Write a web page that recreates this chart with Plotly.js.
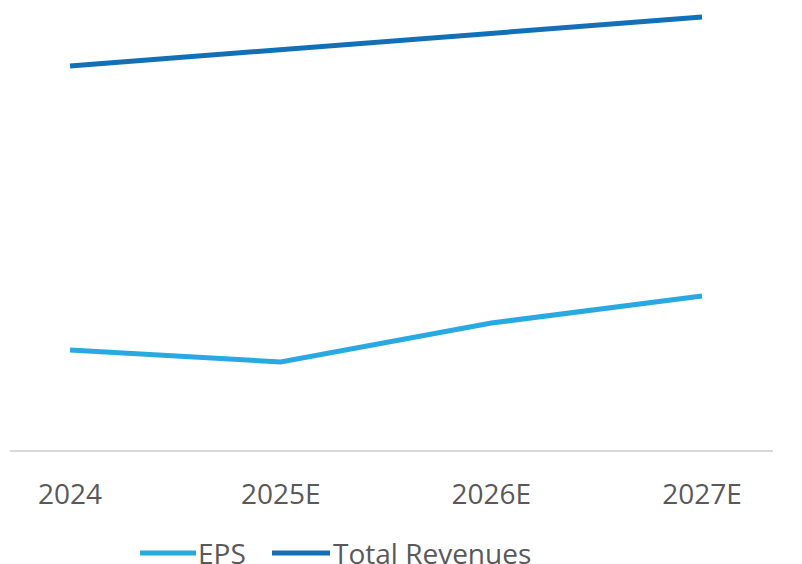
<!DOCTYPE html>
<html>
<head>
<meta charset="utf-8">
<script src="https://cdn.plot.ly/plotly-3.0.1.min.js"></script>
<style>
  html, body { margin: 0; padding: 0; background: #ffffff; }
  #chart { width: 802px; height: 564px; }
</style>
</head>
<body>
<div id="chart"></div>
<script>
// Fiscal periods on the category axis
const periods = ['2024', '2025E', '2026E', '2027E'];

// Series (relative scale, no value axis shown)
const epsValues = [100, 88, 127, 154];
const revenueValues = [384, 400, 417, 433];

const seriesNames = ['EPS', 'Total Revenues'];
const seriesColors = ['#29a9e1', '#1271b6'];

const textColor = '#595959';
const fontFamily = '"Open Sans", "Noto Sans", sans-serif';

const traces = [
  {
    x: periods, y: epsValues, name: seriesNames[0], type: 'scatter', mode: 'lines',
    line: { color: seriesColors[0], width: 5 }, hoverinfo: 'skip'
  },
  {
    x: periods, y: revenueValues, name: seriesNames[1], type: 'scatter', mode: 'lines',
    line: { color: seriesColors[1], width: 5 }, hoverinfo: 'skip'
  }
];

// Plot area spans 10..773 px horizontally and 10..450 px vertically
const plotW = 763, plotH = 440, mL = 10, mT = 10;
const px = v => (v - mL) / plotW;
const py = v => (mT + plotH - v) / plotH;

// Custom legend row beneath the axis: long line swatches followed by names
const legendY = 553;
const legendItems = [
  { x0: 140, x1: 196, tx: 197 },
  { x0: 272, x1: 330, tx: 332 }
];
const shapes = legendItems.map((it, i) => ({
  type: 'line', xref: 'paper', yref: 'paper',
  x0: px(it.x0), x1: px(it.x1), y0: py(legendY), y1: py(legendY),
  line: { color: seriesColors[i], width: 5 }
}));
const annotations = legendItems.map((it, i) => ({
  xref: 'paper', yref: 'paper', x: px(it.tx), y: py(legendY),
  xanchor: 'left', yanchor: 'middle', showarrow: false, borderpad: 0,
  text: seriesNames[i], font: { family: fontFamily, size: 28, color: textColor }
}));

const layout = {
  width: 802, height: 564,
  margin: { l: mL, r: 802 - mL - plotW, t: mT, b: 564 - mT - plotH },
  paper_bgcolor: '#ffffff', plot_bgcolor: '#ffffff',
  showlegend: false,
  font: { family: fontFamily, color: textColor },
  xaxis: {
    type: 'category',
    range: [-0.285, 3.337],
    showgrid: false, zeroline: false,
    showline: true, linecolor: '#d9d9d9', linewidth: 2,
    ticks: '', ticklabelstandoff: 18,
    tickfont: { family: fontFamily, size: 28, color: textColor },
    fixedrange: true
  },
  yaxis: {
    range: [0, 440],
    visible: false, showgrid: false, zeroline: false, fixedrange: true
  },
  shapes: shapes,
  annotations: annotations
};

Plotly.newPlot('chart', traces, layout, { staticPlot: true, displayModeBar: false });
</script>
</body>
</html>
